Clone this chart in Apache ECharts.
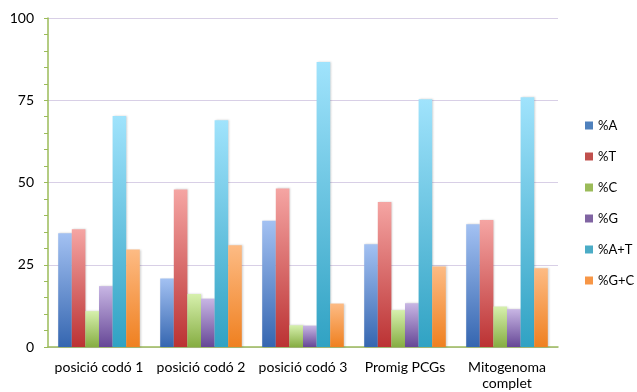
<!DOCTYPE html>
<html>
<head>
<meta charset="utf-8">
<script src="https://cdn.jsdelivr.net/npm/echarts@6/dist/echarts.min.js"></script>
<style>
  html, body { margin: 0; padding: 0; background: #fff; }
  #chart { width: 637px; height: 392px; }
</style>
</head>
<body>
<div id="chart"></div>
<script>
// Base composition per codon position, PCG average and whole mitogenome
const categories = ['posició codó 1', 'posició codó 2', 'posició codó 3', 'Promig PCGs', 'Mitogenoma\ncomplet'];
const seriesNames = ['%A', '%T', '%C', '%G', '%A+T', '%G+C'];

const pctA  = [34.6, 20.8, 38.4, 31.2, 37.3];
const pctT  = [35.8, 47.9, 48.2, 44.1, 38.6];
const pctC  = [10.9, 16.1, 6.6, 11.2, 12.3];
const pctG  = [18.5, 14.7, 6.5, 13.3, 11.5];
const pctAT = [70.2, 68.9, 86.6, 75.3, 75.9];
const pctGC = [29.6, 30.9, 13.2, 24.5, 23.9];

const yTicks = [0, 25, 50, 75, 100];

// [legend colour, gradient top, gradient bottom]
const palette = [
  ['#4f81bd', '#a3c1f2', '#3566b0'],
  ['#c0504d', '#f5a5a3', '#bb3233'],
  ['#9bbb59', '#d6f0ad', '#86ad42'],
  ['#8064a2', '#c8b6e4', '#664796'],
  ['#4bacc6', '#a0e3fc', '#30a2c3'],
  ['#f79646', '#fdbb84', '#ef8020']
];

const values = [pctA, pctT, pctC, pctG, pctAT, pctGC];
const font = 'Lato, "Open Sans", sans-serif';

const chart = echarts.init(document.getElementById('chart'), null, { renderer: 'canvas' });

chart.setOption({
  animation: false,
  backgroundColor: '#ffffff',
  textStyle: { fontFamily: font },
  grid: { left: 48, right: 79, top: 18, bottom: 45 },
  legend: {
    orient: 'vertical',
    left: 585,
    top: 118,
    padding: 0,
    itemWidth: 8,
    itemHeight: 8,
    itemGap: 16,
    icon: 'rect',
    textStyle: { fontFamily: font, fontSize: 13, color: '#000', lineHeight: 15 },
    data: seriesNames.map((n, i) => ({ name: n, itemStyle: { color: palette[i][0] } }))
  },
  xAxis: {
    type: 'category',
    data: categories,
    axisLine: { show: true, lineStyle: { color: '#9bbb59', width: 1.5 } },
    axisTick: { show: false },
    axisLabel: { fontFamily: font, fontSize: 14, color: '#000', margin: 12, lineHeight: 16, interval: 0 }
  },
  yAxis: {
    type: 'value',
    min: 0,
    max: 100,
    interval: 25,
    axisLine: { show: true, lineStyle: { color: '#9bbb59', width: 1.5 } },
    axisTick: { show: true, length: 4, lineStyle: { color: '#9bbb59' } },
    minorTick: { show: true, splitNumber: 5, length: 4, lineStyle: { color: '#9bbb59' } },
    splitLine: { show: true, lineStyle: { color: '#d8cfe6', width: 1 } },
    axisLabel: {
      fontFamily: font, fontSize: 14, color: '#000', margin: 14,
      formatter: v => (yTicks.indexOf(v) >= 0 ? String(v) : '')
    }
  },
  series: seriesNames.map((n, i) => ({
    name: n,
    type: 'bar',
    data: values[i],
    barGap: '0%',
    barCategoryGap: '20%',
    itemStyle: {
      color: {
        type: 'linear', x: 0, y: 0, x2: 0, y2: 1,
        colorStops: [
          { offset: 0, color: palette[i][1] },
          { offset: 1, color: palette[i][2] }
        ]
      },
      shadowColor: 'rgba(0,0,0,0.18)',
      shadowBlur: 2,
      shadowOffsetX: 1
    }
  }))
});
</script>
</body>
</html>
